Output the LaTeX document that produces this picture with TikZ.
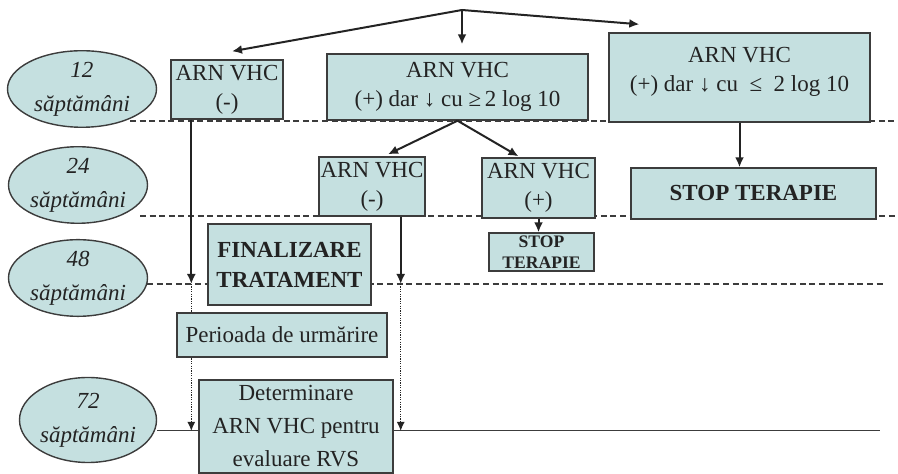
\documentclass[tikz,border=0pt]{standalone}
\usepackage{fontspec}
\setmainfont{Liberation Serif}
\usepackage{xcolor}
\usepackage{tikz}
\usetikzlibrary{arrows.meta, backgrounds, positioning, shapes.geometric, calc}

\definecolor{boxfill}{RGB}{197,224,224}
\definecolor{boxline}{RGB}{60,60,60}
\definecolor{inkdark}{RGB}{35,35,35}

\begin{document}
\begin{tikzpicture}[x=0.5pt, y=-0.5pt,
    font=\fontsize{11.5}{14.5}\selectfont,
    box/.style={draw=boxline, fill=boxfill, text=inkdark, line width=0.7pt, inner sep=0pt, align=center},
    boldbox/.style={box, font=\fontsize{11.5}{15}\selectfont\bfseries},
    smallbox/.style={box, font=\fontsize{8.8}{10.5}\selectfont\bfseries},
    week/.style={ellipse, draw=boxline, fill=boxfill, text=inkdark, line width=0.7pt, inner sep=0pt, align=center, font=\fontsize{11.5}{17}\selectfont\itshape},
    arr/.style={draw=inkdark, line width=1pt, -{Latex[length=5pt,width=4.5pt]}},
    guide/.style={draw=boxline, line width=0.6pt, dash pattern=on 3pt off 1.8pt},
    follow/.style={draw=inkdark, line width=0.7pt, dash pattern=on 0.6pt off 0.6pt, -{Latex[length=4.5pt,width=4pt]}}]

    \useasboundingbox (0,0) rectangle (898,474);

    % Week labels
    \node[week, minimum width=74.5pt, minimum height=37pt] (w12) at (82,89) {12\\săptămâni};
    \node[week, minimum width=69.5pt, minimum height=28pt] (w24) at (78,185) {24\\săptămâni};
    \node[week, minimum width=69.5pt, minimum height=32.5pt] (w48) at (78,278) {48\\săptămâni};
    \node[week, minimum width=68.5pt, minimum height=42.5pt] (w72) at (88,420) {72\\săptămâni};

    % Time lines
    \coordinate (line12) at (130,121);
    \coordinate (line24) at (140,216);
    \coordinate (line48) at (147,284);
    \coordinate (line72) at (157,431);

    % Results at 12 weeks
    \node[box, minimum width=56pt, minimum height=29.5pt] (neg12) at (227,89.5) {ARN VHC\\(-)};
    \node[box, minimum width=130.5pt, minimum height=33pt] (pos12) at (457.5,87) {ARN VHC\\(+) dar ↓ cu ≥\,2 log 10};
    \node[box, minimum width=130.5pt, minimum height=44.5pt, text depth=8pt] (low12) at (739.5,77.5) {ARN VHC\\(+) dar ↓ cu \ ≤ \ 2 log 10};

    % Results at 24 weeks
    \node[box, minimum width=53pt, minimum height=29.5pt] (neg24) at (372,186.5) {ARN VHC\\(-)};
    \node[box, minimum width=56.5pt, minimum height=30pt] (pos24) at (538.5,188) {ARN VHC\\(+)};
    \node[boldbox, minimum width=122.5pt, minimum height=25.5pt] (stop24) at (753.5,193.5) {STOP TERAPIE};
    \node[smallbox, minimum width=52.5pt, minimum height=19pt] (stopsmall) at (541.5,252) {STOP\\TERAPIE};

    % End of treatment and follow-up
    \node[boldbox, minimum width=81.5pt, minimum height=40.5pt] (final) at (289.5,264.5) {FINALIZARE\\TRATAMENT};
    \node[box, minimum width=97pt, minimum height=46.5pt] (svr) at (296,426.5) {Determinare\\[2pt]ARN VHC pentru\\[2pt]evaluare RVS};

    % Branches from the top
    \coordinate (split) at (462,10);
    \draw[arr] (split) -- ($(neg12.north)+(5,-8)$);
    \draw[arr] (split) -- ($(pos12.north)+(4.5,-9)$);
    \draw[arr] (split) -- ($(low12.north west)+(31,-8)$);
    \draw[arr] (pos12.south) -- ($(neg24.north)+(16,-2)$);
    \draw[arr] (pos12.south) -- ($(pos24.north)+(-20,-1)$);
    \draw[arr] (low12.south) -- (low12.south |- stop24.north);
    \draw[arr] (pos24.south) -- (pos24.south |- stopsmall.north);

    % Down to end of treatment
    \coordinate (leftdown) at ($(neg12.south west)+(21,0)$);
    \coordinate (rightdown) at ($(neg24.south east)+(-25,0)$);
    \draw[arr] (leftdown) -- (leftdown |- line48);
    \draw[arr] (rightdown) -- (rightdown |- line48);

    \begin{scope}[on background layer]
        \draw[guide] (line12) -- (898,121);
        \draw[guide] (line24) -- (898,216);
        \draw[guide] (line48) -- (883,284);
        \draw[boxline, line width=0.5pt] (line72) -- (880,431);
        \draw[follow] (leftdown |- line48) -- (leftdown |- line72);
        \draw[follow] (rightdown |- line48) -- (rightdown |- line72);
    \end{scope}

    \node[box, minimum width=105pt, minimum height=22pt] (period) at (282,335) {Perioada de urmărire};
\end{tikzpicture}
\end{document}
